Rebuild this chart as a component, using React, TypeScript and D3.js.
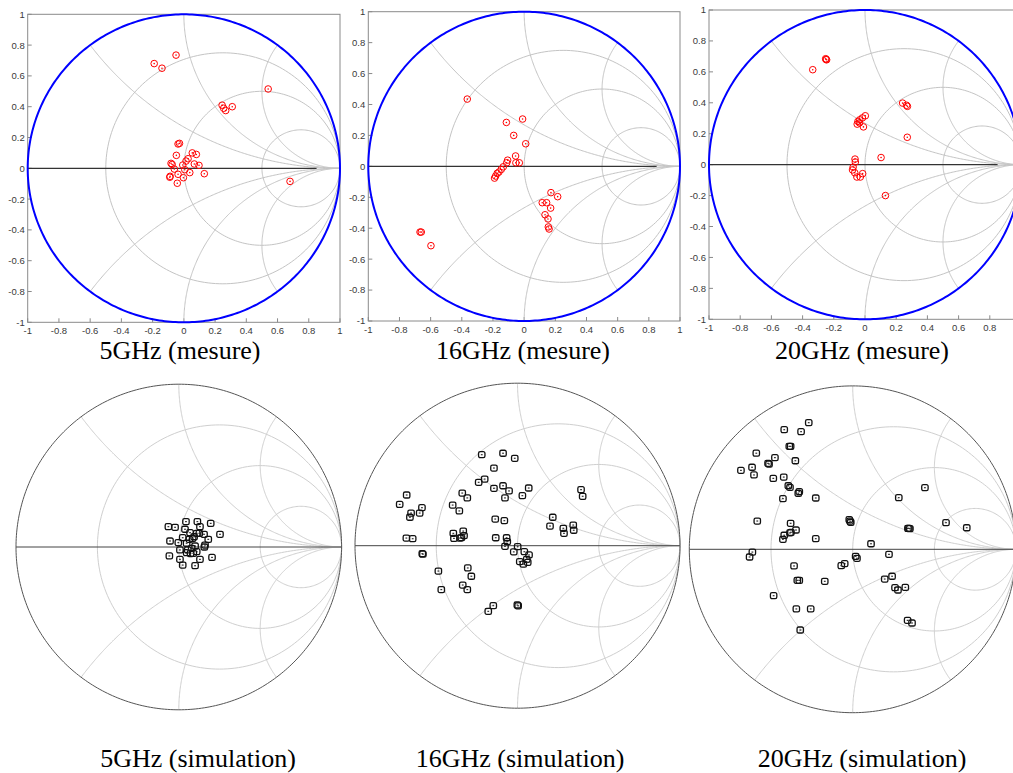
import React from 'react';
import * as d3 from 'd3';

type P = [number, number];

const tickValues = [-1, -0.8, -0.6, -0.4, -0.2, 0, 0.2, 0.4, 0.6, 0.8, 1];
const tickLabels = ['-1', '-0.8', '-0.6', '-0.4', '-0.2', '0', '0.2', '0.4', '0.6', '0.8', '1'];
const resistanceValues = [1 / 3, 1, 3];
const reactanceValues = [0.5, 1, 2];

const captionsTop = ['5GHz (mesure)', '16GHz (mesure)', '20GHz (mesure)'];
const captionsBottom = ['5GHz (simulation)', '16GHz (simulation)', '20GHz (simulation)'];

// measured reflection coefficients (red circles)
const meas5: P[] = [
  [-0.19, 0.68], [-0.14, 0.65], [-0.05, 0.735], [0.245, 0.41], [0.255, 0.39], [0.268, 0.375], [0.31, 0.4],
  [0.54, 0.515], [0.68, -0.085], [-0.037, 0.158], [-0.028, 0.162], [-0.048, 0.084], [0.054, 0.1], [0.08, 0.09],
  [0.027, 0.062], [0.014, 0.047], [-0.082, 0.032], [-0.075, 0.025], [-0.007, 0.021], [0.067, 0.028],
  [0.097, 0.019], [-0.061, -0.005], [0.006, -0.009], [0.038, -0.028], [0.131, -0.035], [-0.088, -0.052],
  [-0.037, -0.039], [-0.003, -0.061], [-0.042, -0.097], [-0.09, -0.058],
];
const meas16: P[] = [
  [-0.365, 0.435], [-0.114, 0.284], [-0.01, 0.306], [-0.067, 0.2], [0.01, 0.146], [-0.055, 0.067],
  [-0.106, 0.04], [-0.112, 0.023], [-0.053, 0.023], [-0.031, 0.023], [-0.134, -0.003], [-0.147, -0.02],
  [-0.162, -0.037], [-0.173, -0.045], [-0.183, -0.063], [-0.19, -0.076], [-0.668, -0.425], [-0.66, -0.425],
  [-0.598, -0.513], [0.172, -0.17], [0.215, -0.196], [0.116, -0.235], [0.144, -0.235], [0.17, -0.27],
  [0.134, -0.313], [0.153, -0.34], [0.155, -0.392], [0.16, -0.405],
];
const meas20: P[] = [
  [-0.252, 0.685], [-0.246, 0.678], [-0.25, 0.68], [-0.335, 0.614], [0.002, 0.316], [-0.017, 0.302],
  [-0.034, 0.29], [-0.045, 0.28], [-0.05, 0.262], [-0.035, 0.27], [-0.01, 0.244], [0.241, 0.398],
  [0.266, 0.384], [0.272, 0.377], [0.271, 0.177], [0.103, 0.046], [-0.064, 0.036], [-0.062, 0.017],
  [-0.076, -0.016], [-0.08, -0.034], [-0.066, -0.052], [-0.052, -0.08], [-0.03, -0.08], [-0.015, -0.058],
  [0.131, -0.2],
];

// simulated reflection coefficients (black squares)
const sim5: P[] = [
  [-0.064, 0.125], [0.044, 0.156], [0.114, 0.156], [0.13, 0.125], [0.196, 0.145], [-0.023, 0.121],
  [0.038, 0.109], [0.11, 0.084], [0.155, 0.078], [0.253, 0.078], [0.024, 0.057], [0.065, 0.047],
  [0.085, 0.053], [0.181, 0.047], [-0.054, 0.037], [-0.003, 0.027], [0.048, 0.023], [0.161, 0.012],
  [0.1, 0.006], [0.007, -0.018], [0.048, -0.035], [0.11, -0.029], [0.079, -0.008], [-0.058, -0.055],
  [0.007, -0.076], [0.13, -0.076], [0.204, -0.064], [0.024, -0.111], [0.1, -0.115], [0.072, -0.04],
  [0.094, 0.063], [0.157, 0.0], [0.055, -0.018], [0.089, -0.039], [0.069, 0.088], [0.126, 0.084],
];
const sim16: P[] = [
  [-0.22, 0.56], [-0.089, 0.569], [-0.017, 0.538], [-0.145, 0.478], [-0.202, 0.41], [-0.239, 0.39],
  [-0.089, 0.369], [-0.145, 0.353], [-0.052, 0.337], [0.069, 0.355], [0.03, 0.308], [-0.077, 0.294],
  [-0.34, 0.324], [-0.309, 0.294], [-0.682, 0.312], [-0.725, 0.254], [-0.588, 0.234], [-0.399, 0.25],
  [-0.358, 0.214], [-0.655, 0.201], [-0.602, 0.201], [-0.662, 0.175], [-0.137, 0.164], [-0.081, 0.154],
  [0.217, 0.175], [0.2, 0.121], [0.282, 0.107], [0.286, 0.076], [0.343, 0.127], [0.346, 0.095],
  [0.391, 0.345], [0.401, 0.304], [-0.684, 0.047], [-0.645, 0.043], [-0.395, 0.076], [-0.334, 0.09],
  [-0.391, 0.045], [-0.354, 0.047], [-0.345, 0.05], [-0.329, 0.062], [-0.134, 0.049], [-0.067, 0.049],
  [-0.063, 0.025], [-0.077, -0.004], [0.001, -0.006], [-0.023, -0.038], [0.042, -0.037], [0.071, -0.057],
  [0.057, -0.084], [0.014, -0.098], [0.036, -0.113], [0.063, -0.102], [-0.586, -0.049], [-0.582, -0.052],
  [-0.487, -0.156], [-0.469, -0.27], [-0.306, -0.137], [-0.284, -0.188], [-0.337, -0.242], [-0.309, -0.27],
  [-0.149, -0.369], [-0.18, -0.404], [-0.001, -0.365], [0.004, -0.37],
];
const sim20: P[] = [
  [-0.269, 0.775], [-0.419, 0.732], [-0.316, 0.72], [-0.388, 0.63], [-0.38, 0.63], [-0.59, 0.588],
  [-0.476, 0.561], [-0.518, 0.526], [-0.512, 0.522], [-0.351, 0.542], [-0.684, 0.483], [-0.616, 0.502],
  [-0.604, 0.455], [-0.486, 0.434], [-0.422, 0.442], [-0.394, 0.389], [-0.384, 0.379], [-0.327, 0.353],
  [-0.333, 0.343], [-0.427, 0.31], [-0.226, 0.314], [0.442, 0.377], [0.282, 0.316], [-0.584, 0.173],
  [-0.38, 0.159], [-0.347, 0.118], [-0.384, 0.1], [-0.378, 0.104], [-0.419, 0.086], [-0.427, 0.061],
  [-0.226, 0.065], [-0.021, 0.181], [-0.012, 0.165], [-0.016, 0.172], [0.338, 0.128], [0.35, 0.126],
  [0.344, 0.128], [0.571, 0.163], [0.698, 0.132], [0.112, 0.034], [-0.614, -0.017], [-0.631, -0.047],
  [0.018, -0.043], [0.026, -0.055], [-0.049, -0.088], [-0.07, -0.1], [0.222, -0.031], [-0.359, -0.102],
  [-0.339, -0.19], [-0.327, -0.19], [-0.171, -0.196], [0.196, -0.182], [0.241, -0.165], [0.259, -0.235],
  [0.277, -0.249], [0.322, -0.233], [-0.484, -0.284], [-0.345, -0.365], [-0.257, -0.365], [-0.321, -0.494],
  [0.336, -0.435], [0.363, -0.451],
];

const W = 1013;
const H = 773;

const topPanels = [
  { x0: 27.7, x1: 340, y0: 14.3, y1: 322.3, cap: 180 },
  { x0: 368.3, x1: 680, y0: 11.7, y1: 321, cap: 523 },
  { x0: 709, x1: 1021, y0: 10, y1: 319.3, cap: 862 },
];
const bottomPanels = [
  { cx: 178.8, cy: 547, r: 162.8, cap: 198 },
  { cx: 517.5, cy: 545.7, r: 162.5, cap: 520 },
  { cx: 852.7, cy: 549.3, r: 163.4, cap: 862 },
];

function arcPts(cx: number, cy: number, r: number, a0: number, a1: number, n = 180): P[] {
  const pts: P[] = [];
  for (let i = 0; i <= n; i++) {
    const a = a0 + ((a1 - a0) * i) / n;
    pts.push([cx + r * Math.cos(a), cy + r * Math.sin(a)]);
  }
  return pts;
}

function gridCurves(): P[][] {
  const curves: P[][] = [];
  resistanceValues.forEach((rv) => {
    curves.push(arcPts(rv / (1 + rv), 0, 1 / (1 + rv), 0, 2 * Math.PI, 200));
  });
  reactanceValues.forEach((xv) => {
    const b = 1 / xv;
    const gx = (xv * xv - 1) / (xv * xv + 1);
    const gy = (2 * xv) / (xv * xv + 1);
    let th = Math.atan2(gy - b, gx - 1);
    if (th > -Math.PI / 2) th -= 2 * Math.PI;
    const up = arcPts(1, b, b, -Math.PI / 2, th, 200);
    curves.push(up);
    curves.push(up.map(([x, y]) => [x, -y] as P));
  });
  return curves;
}

const grid = gridCurves();
const unit = arcPts(0, 0, 1, 0, 2 * Math.PI, 360);

function SmithTop({ panel, data }: { panel: typeof topPanels[0]; data: P[] }) {
  const sx = d3.scaleLinear().domain([-1, 1]).range([panel.x0, panel.x1]);
  const sy = d3.scaleLinear().domain([-1, 1]).range([panel.y1, panel.y0]);
  const line = d3.line<P>().x((d) => sx(d[0])).y((d) => sy(d[1]));
  return (
    <g>
      <rect x={panel.x0} y={panel.y0} width={panel.x1 - panel.x0} height={panel.y1 - panel.y0} fill="#fff" stroke="#8a8a8a" strokeWidth={1} />
      {tickValues.map((t, i) => (
        <g key={'t' + i}>
          <line x1={sx(t)} x2={sx(t)} y1={panel.y1} y2={panel.y1 - 4} stroke="#8a8a8a" />
          <line x1={panel.x0} x2={panel.x0 + 4} y1={sy(t)} y2={sy(t)} stroke="#8a8a8a" />
          {sx(t) < W - 6 && (
            <text x={sx(t)} y={panel.y1 + 12} textAnchor="middle" fontSize={9.5} fill="#3a3a3a" fontFamily="Liberation Sans, Arial, sans-serif">{tickLabels[i]}</text>
          )}
          <text x={panel.x0 - 3} y={sy(t) + 3.4} textAnchor="end" fontSize={9.5} fill="#3a3a3a" fontFamily="Liberation Sans, Arial, sans-serif">{tickLabels[i]}</text>
        </g>
      ))}
      {grid.map((c, i) => (
        <path key={'g' + i} d={line(c) || ''} fill="none" stroke="#c4c4c4" strokeWidth={1} />
      ))}
      <line x1={sx(-1)} x2={sx(0.85)} y1={sy(0)} y2={sy(0)} stroke="#333" strokeWidth={1.2} />
      <path d={line(unit) || ''} fill="none" stroke="#0000ff" strokeWidth={2} />
      {data.map((d, i) => (
        <g key={'p' + i} transform={`translate(${sx(d[0])},${sy(d[1])})`}>
          <circle r={3.3} fill="none" stroke="#ff0000" strokeWidth={1} />
          <circle r={0.8} fill="#ff0000" />
        </g>
      ))}
    </g>
  );
}

function SmithBottom({ panel, data }: { panel: typeof bottomPanels[0]; data: P[] }) {
  const sx = d3.scaleLinear().domain([-1, 1]).range([panel.cx - panel.r, panel.cx + panel.r]);
  const sy = d3.scaleLinear().domain([-1, 1]).range([panel.cy + panel.r, panel.cy - panel.r]);
  const line = d3.line<P>().x((d) => sx(d[0])).y((d) => sy(d[1]));
  return (
    <g>
      {grid.map((c, i) => (
        <path key={'g' + i} d={line(c) || ''} fill="none" stroke="#cfcfcf" strokeWidth={1} />
      ))}
      <line x1={sx(-1)} x2={sx(1)} y1={sy(0)} y2={sy(0)} stroke="#444" strokeWidth={1} />
      <path d={line(unit) || ''} fill="none" stroke="#555" strokeWidth={1} />
      {data.map((d, i) => (
        <g key={'p' + i} transform={`translate(${sx(d[0])},${sy(d[1])})`}>
          <rect x={-3.2} y={-3} width={6.4} height={6} rx={1.6} fill="none" stroke="#111" strokeWidth={1.3} />
          <rect x={-0.9} y={-0.6} width={1.8} height={1.2} fill="#333" />
        </g>
      ))}
    </g>
  );
}

export default function App() {
  return (
    <div style={{ position: 'absolute', left: 0, top: 0 }}>
      <svg width={W} height={H} style={{ display: 'block', background: '#fff' }}>
        <rect width={W} height={H} fill="#fff" />
        <SmithTop panel={topPanels[0]} data={meas5} />
        <SmithTop panel={topPanels[1]} data={meas16} />
        <SmithTop panel={topPanels[2]} data={meas20} />
        <SmithBottom panel={bottomPanels[0]} data={sim5} />
        <SmithBottom panel={bottomPanels[1]} data={sim16} />
        <SmithBottom panel={bottomPanels[2]} data={sim20} />
        {captionsTop.map((c, i) => (
          <text key={'ct' + i} x={topPanels[i].cap} y={359} textAnchor="middle" fontSize={26} fontFamily="Liberation Serif, Times New Roman, serif" fill="#000">{c}</text>
        ))}
        {captionsBottom.map((c, i) => (
          <text key={'cb' + i} x={bottomPanels[i].cap} y={767} textAnchor="middle" fontSize={26} fontFamily="Liberation Serif, Times New Roman, serif" fill="#000">{c}</text>
        ))}
      </svg>
    </div>
  );
}
